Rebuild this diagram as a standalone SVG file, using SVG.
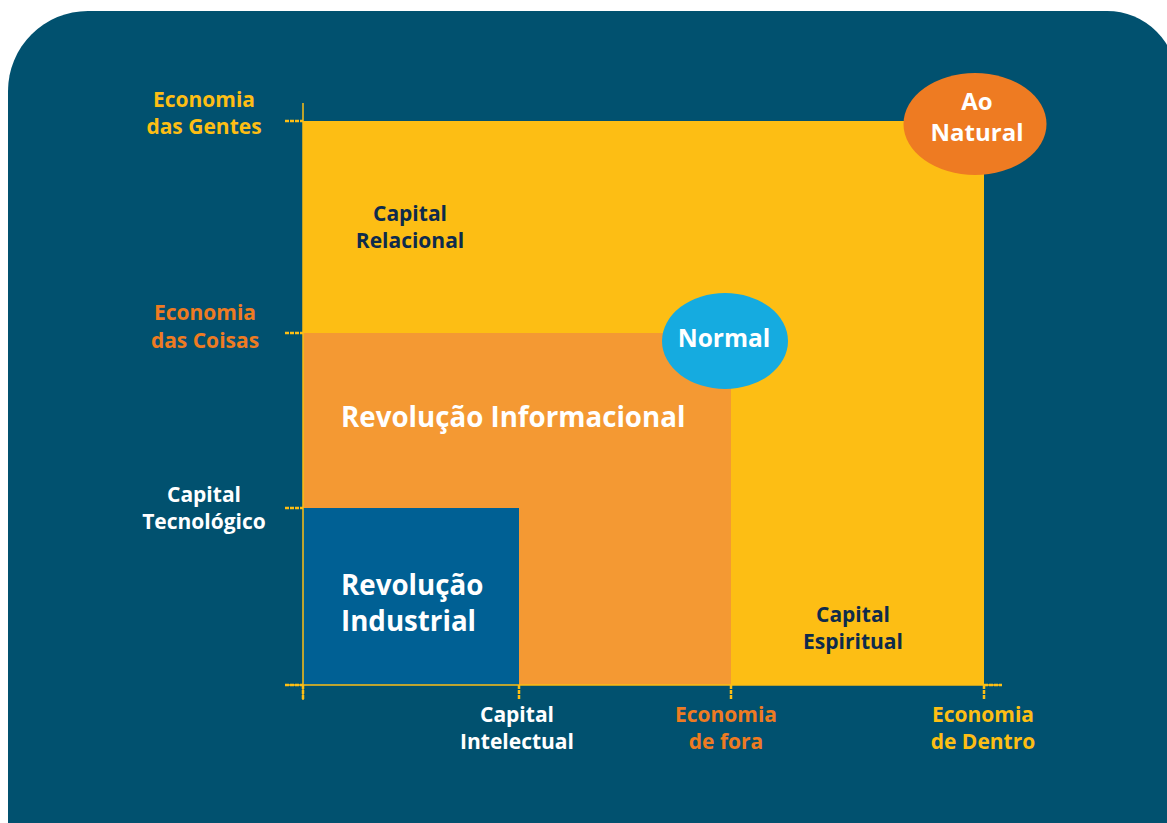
<svg xmlns="http://www.w3.org/2000/svg" width="1167" height="823" viewBox="0 0 1167 823">
<style>
text{font-family:"Open Sans","Noto Sans","DejaVu Sans",sans-serif;font-weight:700}
.lbl{font-size:21px;text-anchor:middle}
.y{fill:#FDBE14}.o{fill:#EE7B22}.w{fill:#FFFFFF}.n{fill:#0E2B4C}
.ax{stroke:#FDBE14;stroke-width:1.5;fill:none}
.tk{stroke:#FDBE14;stroke-width:2.5;stroke-dasharray:4 1;fill:none}
.big{font-size:27.7px;fill:#FFFFFF}
</style>
<rect width="1167" height="823" fill="#FFFFFF"/>
<path d="M8,823 V91 A80,80 0 0 1 88,11 H1107 A70,70 0 0 1 1177,81 V823 Z" fill="#01516F"/>
<g id="zone-relacional"><rect x="303" y="121" width="681" height="564" fill="#FDBE14"/></g>
<g id="zone-informacional"><rect x="303" y="333" width="428" height="352" fill="#F49933"/></g>
<g id="zone-industrial"><rect x="303" y="508" width="216" height="177" fill="#006094"/></g>
<g id="connectors">
<line class="ax" x1="303" y1="103" x2="303" y2="700"/>
<line class="ax" x1="285" y1="685" x2="1002" y2="685"/>
<line class="tk" x1="285" y1="121" x2="303" y2="121"/>
<line class="tk" x1="285" y1="333" x2="303" y2="333"/>
<line class="tk" x1="285" y1="508" x2="303" y2="508"/>
<line class="tk" x1="285" y1="685" x2="303" y2="685"/>
<line class="tk" x1="984" y1="685" x2="1002" y2="685"/>
<line class="tk" x1="303" y1="685" x2="303" y2="700"/>
<line class="tk" x1="519" y1="685" x2="519" y2="700"/>
<line class="tk" x1="731" y1="685" x2="731" y2="700"/>
<line class="tk" x1="984" y1="685" x2="984" y2="700"/>
</g>
<g id="label-gentes"><text class="lbl y" x="204" y="107">Economia</text><text class="lbl y" x="204" y="134">das Gentes</text></g>
<g id="label-coisas"><text class="lbl o" x="205" y="320">Economia</text><text class="lbl o" x="205" y="348">das Coisas</text></g>
<g id="label-tecnologico"><text class="lbl w" x="204" y="502">Capital</text><text class="lbl w" x="204" y="529">Tecnológico</text></g>
<g id="label-intelectual"><text class="lbl w" x="517" y="722">Capital</text><text class="lbl w" x="517" y="749">Intelectual</text></g>
<g id="label-fora"><text class="lbl o" x="726" y="722">Economia</text><text class="lbl o" x="726" y="749">de fora</text></g>
<g id="label-dentro"><text class="lbl y" x="983" y="722">Economia</text><text class="lbl y" x="983" y="749">de Dentro</text></g>
<g id="label-relacional"><text class="lbl n" x="410" y="221">Capital</text><text class="lbl n" x="410" y="248">Relacional</text></g>
<g id="label-espiritual"><text class="lbl n" x="853" y="622">Capital</text><text class="lbl n" x="853" y="649">Espiritual</text></g>
<g id="label-informacional"><text class="big" x="341" y="427">Revolução Informacional</text></g>
<g id="label-industrial"><text class="big" x="341" y="595">Revolução</text><text class="big" x="341" y="631">Industrial</text></g>
<g id="normal"><ellipse cx="725" cy="341" rx="63" ry="48" fill="#15ABE0"/><text x="724" y="347" font-size="24.5" fill="#FFFFFF" text-anchor="middle">Normal</text></g>
<g id="ao-natural"><ellipse cx="975" cy="124" rx="71.5" ry="51" fill="#EE7B22"/><text x="977" y="110" font-size="24" fill="#FFFFFF" text-anchor="middle">Ao</text><text x="977" y="141" font-size="24" fill="#FFFFFF" text-anchor="middle">Natural</text></g>
</svg>
